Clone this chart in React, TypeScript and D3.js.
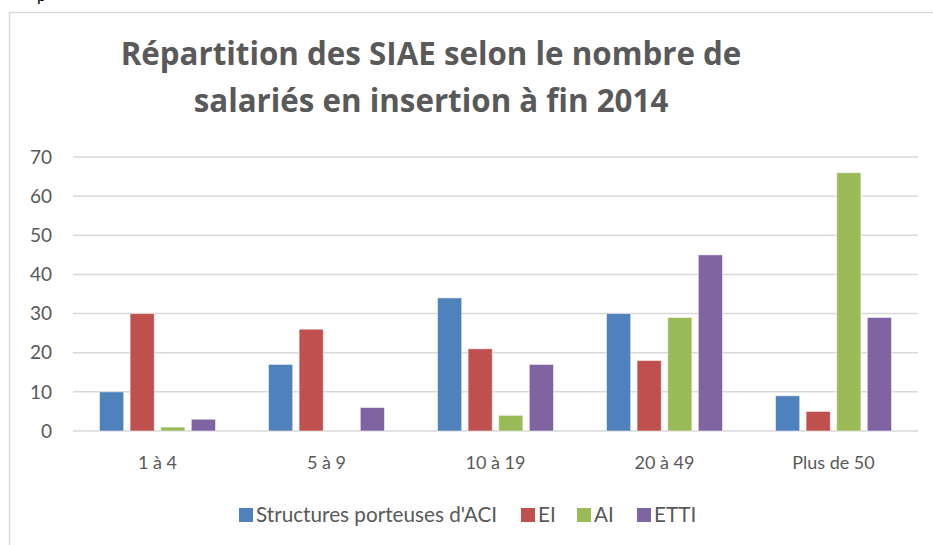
import React from "react";
import * as d3 from "d3";

const categories = ["1 à 4", "5 à 9", "10 à 19", "20 à 49", "Plus de 50"];
const seriesNames = ["Structures porteuses d'ACI", "EI", "AI", "ETTI"];
const seriesColors = ["#4F81BD", "#C0504D", "#9BBB59", "#8064A2"];
const aciValues = [10, 17, 34, 30, 9];
const eiValues = [30, 26, 21, 18, 5];
const aiValues = [1, 0, 4, 29, 66];
const ettiValues = [3, 6, 17, 45, 29];
const yTicks = [0, 10, 20, 30, 40, 50, 60, 70];
const titleLines = ["Répartition des SIAE selon le nombre de", "salariés en insertion à fin 2014"];

const seriesValues = [aciValues, eiValues, aiValues, ettiValues];

export default function App() {
  const W = 933, H = 545;
  const left = 73, right = 918, top = 157, bottom = 431;
  const font = "Lato, 'Open Sans', sans-serif";
  const titleFont = "'Open Sans', sans-serif";
  const gray = "#595959";

  const x0 = d3.scaleBand<string>().domain(categories).range([left, right]).padding(0);
  const groupPad = 26.5;
  const x1 = d3.scaleBand<string>().domain(seriesNames)
    .range([groupPad, x0.bandwidth() - groupPad]).paddingInner(0.21).paddingOuter(0);
  const y = d3.scaleLinear().domain([0, 70]).range([bottom, top]);

  const legendX = [239, 521, 577, 637];

  return (
    <svg width={W} height={H} style={{ position: "absolute", left: 0, top: 0, background: "#fff" }}>
      <rect x={0} y={0} width={W} height={H} fill="#fff" />
      <text x={37} y={1} fontFamily={font} fontSize={16} fill="#000">p</text>
      <rect x={9.5} y={12.5} width={1000} height={1000} fill="#fff" stroke="#D9D9D9" strokeWidth={1.5} />
      {titleLines.map((t, i) => (
        <text key={i} x={431} y={65 + i * 47} textAnchor="middle" fontFamily={titleFont} fontWeight="bold" fontSize={31.3} fill={gray}>{t}</text>
      ))}
      {yTicks.map((v) => (
        <g key={v}>
          <line x1={left} x2={right} y1={y(v)} y2={y(v)} stroke="#D9D9D9" strokeWidth={1.5} />
          <text x={52} y={y(v)} dy="0.35em" textAnchor="end" fontFamily={font} fontSize={19} fill={gray}>{v}</text>
        </g>
      ))}
      {categories.map((c, ci) => (
        <g key={c} transform={`translate(${x0(c)},0)`}>
          {seriesNames.map((s, si) => {
            const v = seriesValues[si][ci];
            if (v <= 0) return null;
            return (
              <rect key={s} x={x1(s)} y={y(v)} width={x1.bandwidth()} height={y(0) - y(v)}
                fill={seriesColors[si]} stroke="#ffffff" strokeOpacity={0.5} strokeWidth={1} />
            );
          })}
          <text x={x0.bandwidth() / 2} y={469} textAnchor="middle" fontFamily={font} fontSize={18} fill={gray}>{c}</text>
        </g>
      ))}
      {seriesNames.map((s, i) => (
        <g key={s}>
          <rect x={legendX[i]} y={508} width={14} height={14} fill={seriesColors[i]} />
          <text x={legendX[i] + 17} y={522} fontFamily={font} fontSize={20.7} fill={gray}>{s}</text>
        </g>
      ))}
    </svg>
  );
}
